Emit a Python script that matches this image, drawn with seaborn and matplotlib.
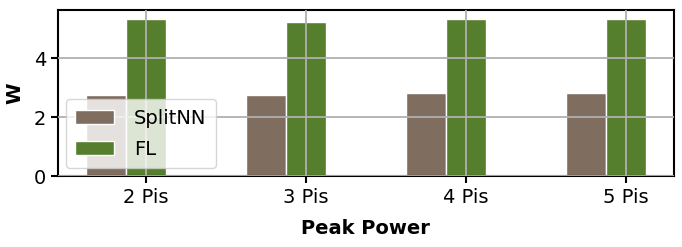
import matplotlib
matplotlib.use("Agg")
import matplotlib.pyplot as plt
import numpy as np
import pandas as pd
import seaborn as sns

groups = ["2 Pis", "3 Pis", "4 Pis", "5 Pis"]
models = ["SplitNN", "FL"]
splitnn = [2.74, 2.75, 2.84, 2.84]
fl = [5.35, 5.25, 5.35, 5.35]
colors = ["#7f6d5f", "#557f2d"]

df = pd.DataFrame({
    "group": groups * 2,
    "model": [models[0]] * len(groups) + [models[1]] * len(groups),
    "power": splitnn + fl,
})

sns.set_style("ticks")
plt.rcParams["font.family"] = ["DejaVu Sans"]
plt.rcParams["text.color"] = "black"
plt.rcParams["axes.labelcolor"] = "black"
plt.rcParams["xtick.color"] = "black"
plt.rcParams["ytick.color"] = "black"

fig, ax = plt.subplots(figsize=(6.82, 2.47), dpi=100)
fig.subplots_adjust(left=0.085, right=0.988, top=0.96, bottom=0.287)

sns.barplot(data=df, x="group", y="power", hue="model", hue_order=models,
            palette=colors, width=0.5, saturation=1, edgecolor="white",
            linewidth=1, errorbar=None, ax=ax)

# ticks sit under the FL bars
n = len(groups)
ax.set_xticks(np.arange(n) + 0.125)
ax.set_xticklabels(groups)
ax.set_xlim(-0.425, n - 1 + 0.425)
ax.set_ylim(0, 5.65)
ax.set_yticks([0, 2, 4])

ax.grid(True, color="#b0b0b0", linewidth=1.3)
ax.set_axisbelow(False)
for s in ax.spines.values():
    s.set_color("black")
    s.set_linewidth(1.5)
ax.tick_params(labelsize=14, width=1.5, length=5)

ax.set_xlabel("Peak Power", fontsize=14, fontweight="bold", labelpad=9)
ax.set_ylabel("W", fontsize=14, fontweight="bold", labelpad=7)
ax.legend(loc="lower left", fontsize=14, title=None, borderaxespad=0.4,
          borderpad=0.5, labelspacing=0.6, handletextpad=1.0)

fig.savefig("out.png", dpi=100)
